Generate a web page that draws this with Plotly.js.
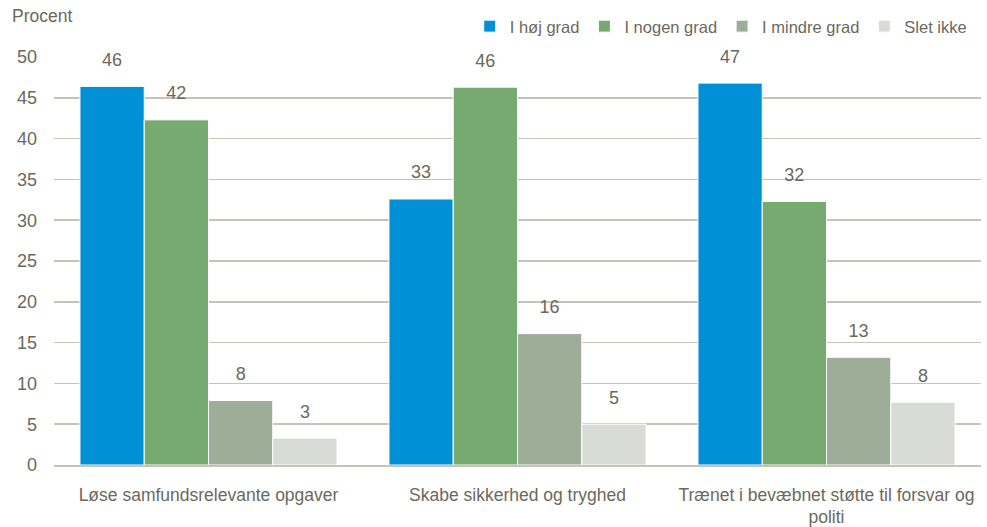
<!DOCTYPE html>
<html>
<head>
<meta charset="utf-8">
<script src="https://cdn.plot.ly/plotly-3.0.1.min.js"></script>
<style>html,body{margin:0;padding:0;background:#fff;}#chart{width:987px;height:527px;}</style>
</head>
<body>
<div id="chart"></div>
<script>
const categories = ["Løse samfundsrelevante opgaver", "Skabe sikkerhed og tryghed", "Trænet i bevæbnet støtte til forsvar og<br>politi"];
const seriesNames = ["I høj grad", "I nogen grad", "I mindre grad", "Slet ikke"];
const hojGrad = [46.4, 32.6, 46.8];
const nogenGrad = [42.3, 46.3, 32.3];
const mindreGrad = [7.9, 16.1, 13.2];
const sletIkke = [3.3, 5.0, 7.7];
const seriesValues = [hojGrad, nogenGrad, mindreGrad, sletIkke];
const colors = ["#0090d6", "#77aa70", "#9cae98", "#d9dcd6"];
const textColor = "#6b695d";
const fontFamily = "Liberation Sans, Arial, sans-serif";

const traces = [];
seriesValues.forEach((vals, i) => {
  traces.push({
    type: "bar", name: seriesNames[i], x: categories, y: vals,
    offsetgroup: String(i),
    marker: {color: colors[i], line: {color: "#ffffff", width: 1}},
    hoverinfo: "skip"
  });
});
seriesValues.forEach((vals, i) => {
  traces.push({
    type: "scatter", mode: "markers+text", x: categories, y: vals,
    offsetgroup: String(i), showlegend: false,
    marker: {size: 24, opacity: 0},
    text: vals.map(v => String(Math.round(v))),
    textposition: "top center",
    textfont: {size: 18, color: textColor, family: fontFamily},
    cliponaxis: false, hoverinfo: "skip"
  });
});

const layout = {
  width: 987, height: 527,
  margin: {l: 54, r: 6, t: 57, b: 62},
  paper_bgcolor: "#ffffff", plot_bgcolor: "#ffffff",
  font: {family: fontFamily, size: 17.5, color: textColor},
  barmode: "group", scattermode: "group",
  bargap: 0.168, bargroupgap: 0,
  showlegend: true,
  legend: {
    orientation: "h", x: 0.99, xanchor: "right", y: 1.075, yanchor: "middle",
    font: {size: 16.5, color: textColor}, itemwidth: 30, traceorder: "normal",
    bgcolor: "rgba(0,0,0,0)"
  },
  xaxis: {
    type: "category", showgrid: false, ticks: "", ticklabelstandoff: 13,
    showline: true, linecolor: "#c6c3b7", linewidth: 1.5,
    tickfont: {size: 17.5, color: textColor}
  },
  yaxis: {
    range: [0, 50], dtick: 5, tick0: 0, showgrid: true, gridcolor: "#c6c3b7", gridwidth: 1.5,
    zeroline: false, ticks: "", ticklabelstandoff: 16,
    tickfont: {size: 18, color: textColor}
  },
  annotations: [{
    text: "Procent", xref: "paper", yref: "paper", x: -0.048, y: 1.07,
    xanchor: "left", yanchor: "bottom", showarrow: false,
    font: {size: 17.5, color: textColor}
  }]
};

Plotly.newPlot("chart", traces, layout, {displayModeBar: false, staticPlot: true});
</script>
</body>
</html>
